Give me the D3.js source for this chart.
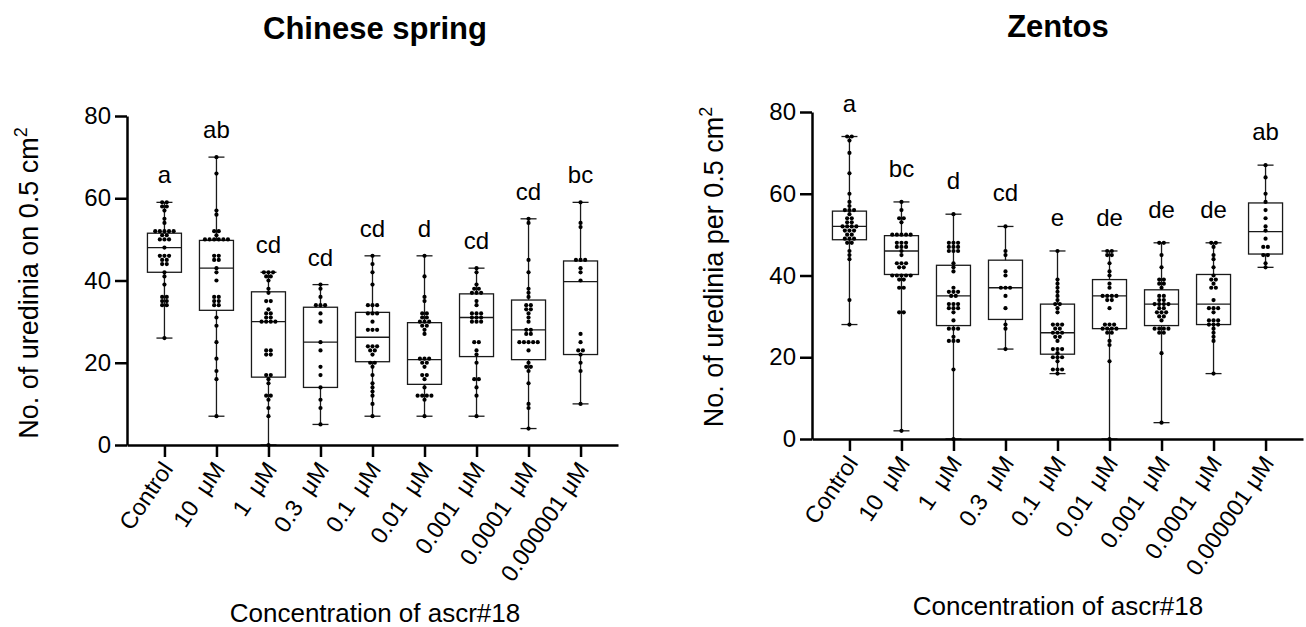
<!DOCTYPE html>
<html>
<head>
<meta charset="utf-8" />
<title>Uredinia after ascr#18 treatment</title>
<style>
body { margin: 0; background: #fff; }
svg { font-family: "Liberation Sans", Arial, sans-serif; }
.box, .whisker { stroke: #1a1a1a; stroke-width: 1.3px; fill: none; }
.axis .domain, .axis .tick line { stroke: #000; stroke-width: 2.5px; }
.axis text { fill: #000; }
</style>
</head>
<body>
<script src="https://d3js.org/d3.v7.min.js"></script>
<script>
var groups = ["Control", "10  \u03bcM", "1  \u03bcM", "0.3  \u03bcM", "0.1  \u03bcM", "0.01  \u03bcM", "0.001  \u03bcM", "0.0001  \u03bcM", "0.000001 \u03bcM"];
var yTicks = [0, 20, 40, 60, 80];

// Chinese spring - box stats
var csMax = [59, 70, 42, 39, 46, 46, 43, 55, 59];
var csQ3  = [51.5, 49.75, 37.25, 33.5, 32.25, 29.75, 36.75, 35.25, 44.75];
var csMed = [48, 43, 30, 25, 26.2, 20.75, 31, 28, 39.75];
var csQ1  = [42, 32.75, 16.5, 14, 20.25, 14.75, 21.5, 20.75, 22];
var csMin = [26, 7, 0, 5, 7, 7, 7, 4, 10];
var csLetters = ["a", "ab", "cd", "cd", "cd", "d", "cd", "cd", "bc"];
var csPoints = [
  [59,59,58,58,57,55,54,52,52,52,52,52,51,51,50,50,50,48,46,46,46,45,45,44,44,42,41,39,36,36,35,35,34,34,26],
  [70,66,57,56,52,52,51,50,50,50,50,50,50,46,46,45,45,43,42,40,36,36,35,35,34,34,31,29,25,21,18,16,7],
  [42,42,42,41,41,40,38,37,35,35,33,32,32,31,31,30,30,30,30,23,23,22,22,17,17,16,15,12,12,11,9,7,0],
  [39,38,36,34,34,34,32,30,25,23,19,17,14,11,9,5],
  [46,44,42,39,34,34,34,32,32,32,30,28,28,28,24,24,24,23,23,22,20,20,19,17,15,14,13,12,10,7],
  [46,41,36,35,32,32,31,31,30,30,30,29,29,28,27,21,21,21,20,20,19,17,17,16,14,12,12,12,12,11,7],
  [43,42,39,38,38,37,37,37,35,34,32,32,32,31,31,31,30,30,30,25,25,23,22,20,16,16,14,12,7],
  [55,54,45,42,38,37,36,34,34,33,33,32,31,30,28,28,27,27,25,25,25,25,25,23,20,19,19,18,15,10,9,4],
  [59,54,53,45,45,45,43,42,40,27,25,23,23,22,20,18,10]
];

// Zentos
var ztMax = [74, 58, 55, 52, 46, 46, 48, 48, 67];
var ztQ3  = [55.75, 49.75, 42.5, 43.75, 33, 39, 36.5, 40.25, 57.75];
var ztMed = [52, 46, 35, 37, 26, 35, 33, 33, 50.75];
var ztQ1  = [48.75, 40.25, 27.75, 29.25, 20.75, 27, 27.75, 28, 45.25];
var ztMin = [28, 2, 0, 22, 16, 0, 4, 16, 42];
var ztLetters = ["a", "bc", "d", "cd", "e", "de", "de", "de", "ab"];
var ztPoints = [
  [74,74,73,70,65,60,58,57,56,56,56,55,54,54,53,53,52,52,52,52,51,51,51,50,50,49,49,49,48,48,46,45,44,34,28],
  [58,56,54,54,53,50,50,50,50,50,48,48,48,47,47,47,46,45,43,43,43,42,42,40,40,40,40,40,39,39,37,37,31,31,2],
  [55,48,48,48,47,47,47,46,46,46,43,42,41,37,36,36,36,35,35,33,33,33,32,32,32,31,29,27,27,27,25,24,24,24,17,0],
  [52,46,45,41,40,37,37,37,35,32,28,27,22],
  [46,39,38,37,36,35,34,33,33,32,31,28,28,28,27,27,26,26,26,25,25,24,22,22,22,21,20,20,20,19,17,17,17,16],
  [46,46,45,45,43,41,40,38,37,35,35,35,35,34,34,32,28,28,28,27,27,27,27,26,26,24,23,19,0],
  [48,48,45,42,39,39,38,38,37,35,35,34,34,33,33,33,33,32,32,31,31,31,30,30,29,27,27,27,27,26,26,21,4],
  [48,48,47,45,44,42,40,39,39,38,37,37,34,32,32,32,31,29,29,29,28,28,28,27,26,25,24,16],
  [67,64,60,58,56,54,52,51,49,47,47,45,45,43,42]
];

var svg = d3.select("body").append("svg")
    .attr("width", 1306)
    .attr("height", 627);

// spread equal values side by side
function swarm(vals) {
  var out = [];
  d3.rollups(vals, v => v.length, d => d).forEach(function(r) {
    for (var i = 0; i < r[1]; i++) out.push({v: r[0], k: i - (r[1] - 1) / 2});
  });
  return out;
}

function panel(o) {
  var x = d3.scalePoint().domain(groups).range(o.xr).padding(0.72);
  var y = d3.scaleLinear().domain([0, 80]).range(o.yr);
  var g = svg.append("g");
  var hw = 17, cap = 8;

  groups.forEach(function(name, i) {
    var cx = x(name);
    var gg = g.append("g");
    gg.append("line").attr("class", "whisker")
      .attr("x1", cx).attr("x2", cx).attr("y1", y(o.max[i])).attr("y2", y(o.q3[i]));
    gg.append("line").attr("class", "whisker")
      .attr("x1", cx).attr("x2", cx).attr("y1", y(o.q1[i])).attr("y2", y(o.min[i]));
    [o.max[i], o.min[i]].forEach(function(v) {
      gg.append("line").attr("class", "whisker")
        .attr("x1", cx - cap).attr("x2", cx + cap).attr("y1", y(v)).attr("y2", y(v));
    });
    gg.append("rect").attr("class", "box")
      .attr("x", cx - hw).attr("width", hw * 2)
      .attr("y", y(o.q3[i])).attr("height", y(o.q1[i]) - y(o.q3[i]));
    gg.append("line").attr("class", "box")
      .attr("x1", cx - hw).attr("x2", cx + hw).attr("y1", y(o.med[i])).attr("y2", y(o.med[i]));

    gg.selectAll("circle")
      .data(swarm(o.pts[i]))
      .enter().append("circle")
      .attr("cx", d => cx + d.k * 4.6)
      .attr("cy", d => y(d.v))
      .attr("r", 2.1)
      .style("fill", "#000");

    gg.append("text")
      .attr("x", cx).attr("y", y(o.max[i]) - o.gap)
      .attr("text-anchor", "middle")
      .style("font-size", "24px")
      .text(o.letters[i]);
  });

  g.append("g").attr("class", "axis")
    .attr("transform", "translate(" + o.xr[0] + ",0)")
    .call(d3.axisLeft(y).tickValues(yTicks).tickSize(12).tickSizeOuter(0).tickPadding(4))
    .selectAll("text").style("font-size", "24px");

  var xa = g.append("g").attr("class", "axis")
    .attr("transform", "translate(0," + o.yr[0] + ")")
    .call(d3.axisBottom(x).tickSize(12).tickSizeOuter(0));
  xa.selectAll("text")
    .attr("x", 0).attr("y", 0).attr("dy", 0)
    .attr("transform", "translate(9,24) rotate(-56)")
    .style("text-anchor", "end")
    .style("white-space", "pre")
    .style("font-size", "23.5px");

  svg.append("text")
    .attr("x", o.titleX).attr("y", o.titleY)
    .attr("text-anchor", "middle")
    .style("font-size", "31px").style("font-weight", "bold")
    .text(o.title);

  svg.append("text")
    .attr("x", o.titleX).attr("y", o.xtY)
    .attr("text-anchor", "middle")
    .style("font-size", "26px")
    .text("Concentration of ascr#18");

  var yl = svg.append("text")
    .attr("transform", "translate(" + o.ylX + "," + o.ylY + ") rotate(-90)")
    .attr("text-anchor", "middle")
    .style("font-size", "27px")
    .text(o.ylab);
  yl.append("tspan").attr("dy", "-0.6em").style("font-size", "18px").text("2");
}

panel({
  xr: [127, 618], yr: [445, 116],
  max: csMax, q3: csQ3, med: csMed, q1: csQ1, min: csMin,
  pts: csPoints, letters: csLetters, gap: 19,
  title: "Chinese spring", titleX: 375, titleY: 39, xtY: 622,
  ylab: "No. of uredinia on 0.5 cm", ylX: 38, ylY: 283
});

panel({
  xr: [812, 1303], yr: [439, 112],
  max: ztMax, q3: ztQ3, med: ztMed, q1: ztQ1, min: ztMin,
  pts: ztPoints, letters: ztLetters, gap: 25,
  title: "Zentos", titleX: 1058, titleY: 37, xtY: 615,
  ylab: "No. of uredinia per 0.5 cm", ylX: 723, ylY: 267
});
</script>
</body>
</html>
